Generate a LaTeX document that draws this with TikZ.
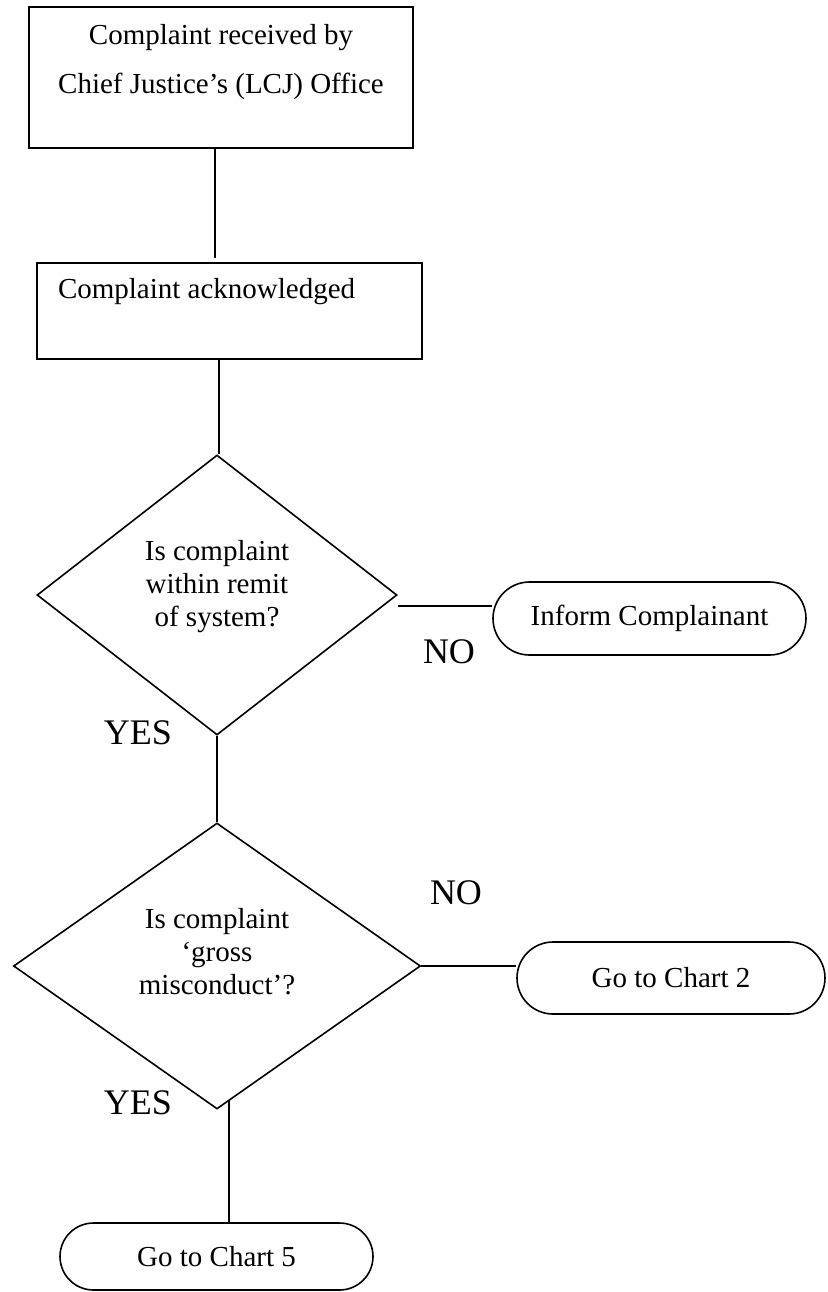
\documentclass[tikz,border=0pt]{standalone}
\usepackage{fontspec}
\setmainfont{Liberation Serif}
\usepackage{tikz}
\usetikzlibrary{shapes.geometric,shapes.misc}

\begin{document}
\begin{tikzpicture}[x=0.5pt, y=-0.5pt, line width=0.8pt,
		every node/.style={font=\fontsize{14.5}{16.5}\selectfont},
		stepbox/.style={draw, rectangle, inner sep=0pt},
		question/.style={draw, diamond, inner sep=0pt, align=center},
		outcome/.style={draw, rounded rectangle, inner sep=0pt},
		answer/.style={font=\fontsize{18}{20}\selectfont}]
			\useasboundingbox (0,0) rectangle (827,1292);
			% boxes at the top
			\node[stepbox] (recv) at (221,77.5)
				{\parbox[c][70.5pt][t]{192pt}{\centering\rule{0pt}{18.5pt}Complaint received by\\[8pt]
				Chief Justice’s (LCJ) Office}};
			\node[stepbox] (ack) at (229.5,311)
				{\parbox[c][48pt][t]{192.5pt}{\hspace*{10.5pt}\rule{0pt}{17.5pt}Complaint acknowledged}};
			% questions
			\node[question, minimum width=180pt, minimum height=140pt] (q1) at (217,595)
				{Is complaint\\within remit\\of system?\\[-4.5pt]\mbox{}};
			\node[question, minimum width=203.5pt, minimum height=143pt] (q2) at (217,966)
				{Is complaint\\‘gross\\misconduct’?\\[-1.5pt]\mbox{}};
			% outcomes
			\node[outcome, minimum width=156.5pt, minimum height=36.5pt] (inf) at (649.5,618.5) {Inform Complainant};
			\node[outcome, minimum width=154pt, minimum height=36pt] (ch2) at (671,978) {Go to Chart 2};
			\node[outcome, minimum width=156.5pt, minimum height=33.5pt] (ch5) at (216.5,1256.5) {Go to Chart 5};
			% answers
			\node[answer] (no1) at (449,652) {NO};
			\node[answer] (yes1) at (138,733) {YES};
			\node[answer] (no2) at (456,893) {NO};
			\node[answer] (yes2) at (138,1103) {YES};
			% lines
			\coordinate (noA) at ([yshift=-5.5pt]q1.east);
			\draw ([xshift=-1pt]recv.south -| q1.north) -- ++(0,109);
			\draw ([xshift=1pt]ack.south -| q1.north) -- ([xshift=1pt]q1.north);
			\draw (q1.south) -- (q2.north);
			\draw (noA) -- (noA -| inf.west);
			\draw (q2.east) -- (q2.east -| ch2.west);
			\draw (q2.-85.3) -- (q2.-85.3 |- ch5.north);
\end{tikzpicture}
\end{document}
